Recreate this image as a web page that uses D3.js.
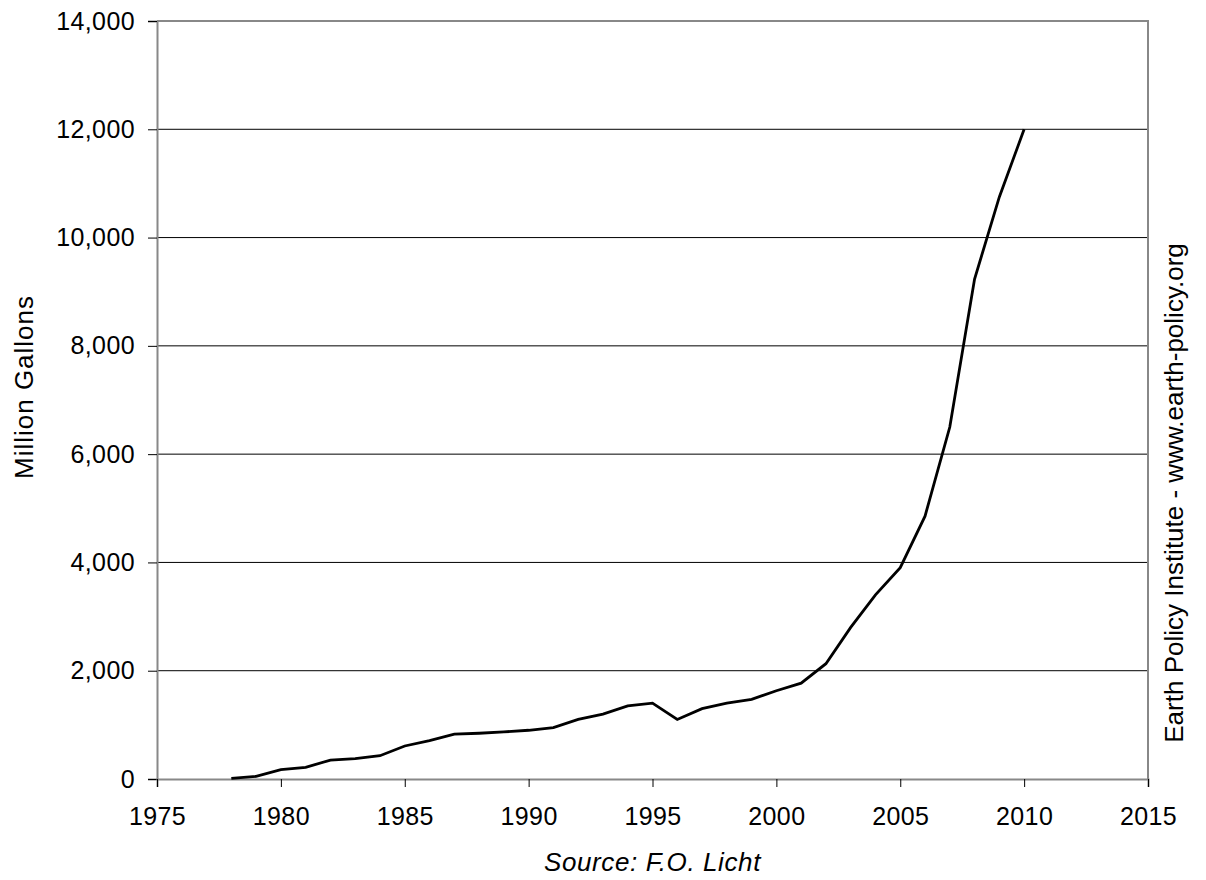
<!DOCTYPE html>
<html>
<head>
<meta charset="utf-8">
<script src="https://cdn.jsdelivr.net/npm/d3@7"></script>
<style>
  html, body { margin: 0; padding: 0; background: #fff; }
  svg text { font-family: "Liberation Sans", Arial, Helvetica, sans-serif; fill: #000; }
</style>
</head>
<body>
<svg id="chart" width="1206" height="880"></svg>
<script>
const years = [1978, 1979, 1980, 1981, 1982, 1983, 1984, 1985, 1986, 1987, 1988, 1989,
  1990, 1991, 1992, 1993, 1994, 1995, 1996, 1997, 1998, 1999, 2000, 2001, 2002,
  2003, 2004, 2005, 2006, 2007, 2008, 2009, 2010];
const gallons = [10, 50, 175, 215, 350, 375, 430, 610, 710, 830, 845, 870,
  900, 950, 1100, 1200, 1350, 1400, 1100, 1300, 1400, 1470, 1630, 1770, 2130,
  2800, 3400, 3904, 4855, 6500, 9235, 10750, 12000];
const xTicks = [1975, 1980, 1985, 1990, 1995, 2000, 2005, 2010, 2015];
const yTicks = [0, 2000, 4000, 6000, 8000, 10000, 12000, 14000];
const yTitle = "Million Gallons";
const sourceText = "Source: F.O. Licht";
const creditText = "Earth Policy Institute - www.earth-policy.org";

const svg = d3.select("#chart");
const m = { left: 157, right: 1148, top: 21, bottom: 779 };

const x = d3.scaleLinear().domain([1975, 2015]).range([m.left, m.right]);
const y = d3.scaleLinear().domain([0, 14000]).range([m.bottom, m.top]);

// gridlines
svg.append("g")
  .selectAll("line")
  .data(yTicks.filter(d => d > 0 && d < 14000))
  .join("line")
  .attr("x1", m.left).attr("x2", m.right)
  .attr("y1", d => y(d)).attr("y2", d => y(d))
  .attr("stroke", "#000").attr("stroke-width", 1);

// plot border (top and right)
svg.append("path")
  .attr("d", `M${m.left},${m.top}H${m.right}V${m.bottom}`)
  .attr("fill", "none").attr("stroke", "#888").attr("stroke-width", 2);

// y axis
const yAxis = d3.axisLeft(y).tickValues(yTicks)
  .tickFormat(d3.format(",")).tickSize(9).tickPadding(13);
const gy = svg.append("g").attr("transform", `translate(${m.left},0)`).call(yAxis);
gy.select(".domain").attr("stroke", "#888").attr("stroke-width", 2);
gy.selectAll(".tick line").attr("stroke", "#000").attr("stroke-width", 1);
gy.selectAll(".tick text").attr("font-size", 25)
  .style("font-family", '"Liberation Sans", Arial, sans-serif')
  .style("letter-spacing", "0.4px").attr("fill", "#000");

// x axis
const xAxis = d3.axisBottom(x).tickValues(xTicks)
  .tickFormat(d3.format("d")).tickSize(8).tickPadding(20);
const gx = svg.append("g").attr("transform", `translate(0,${m.bottom})`).call(xAxis);
gx.select(".domain").attr("stroke", "#888").attr("stroke-width", 2);
gx.selectAll(".tick line").attr("stroke", "#000").attr("stroke-width", 1);
gx.selectAll(".tick text").attr("font-size", 25)
  .style("font-family", '"Liberation Sans", Arial, sans-serif')
  .style("letter-spacing", "0.4px").attr("fill", "#000");

// line
const data = years.map((yr, i) => ({ yr, v: gallons[i] }));
svg.append("path")
  .datum(data)
  .attr("fill", "none")
  .attr("stroke", "#000")
  .attr("stroke-width", 2.8)
  .attr("stroke-linejoin", "miter")
  .attr("d", d3.line().x(d => x(d.yr)).y(d => y(d.v)));

// y title
svg.append("text")
  .attr("transform", `translate(33,387) rotate(-90)`)
  .attr("text-anchor", "middle")
  .attr("font-size", 26)
  .style("letter-spacing", "1px")
  .text(yTitle);

// source
svg.append("text")
  .attr("x", (m.left + m.right) / 2)
  .attr("y", 871)
  .attr("text-anchor", "middle")
  .attr("font-size", 26)
  .style("letter-spacing", "0.6px")
  .attr("font-style", "italic")
  .text(sourceText);

// credit
svg.append("text")
  .attr("transform", `translate(1183,493) rotate(-90)`)
  .attr("text-anchor", "middle")
  .attr("font-size", 26)
  .text(creditText);
</script>
</body>
</html>
